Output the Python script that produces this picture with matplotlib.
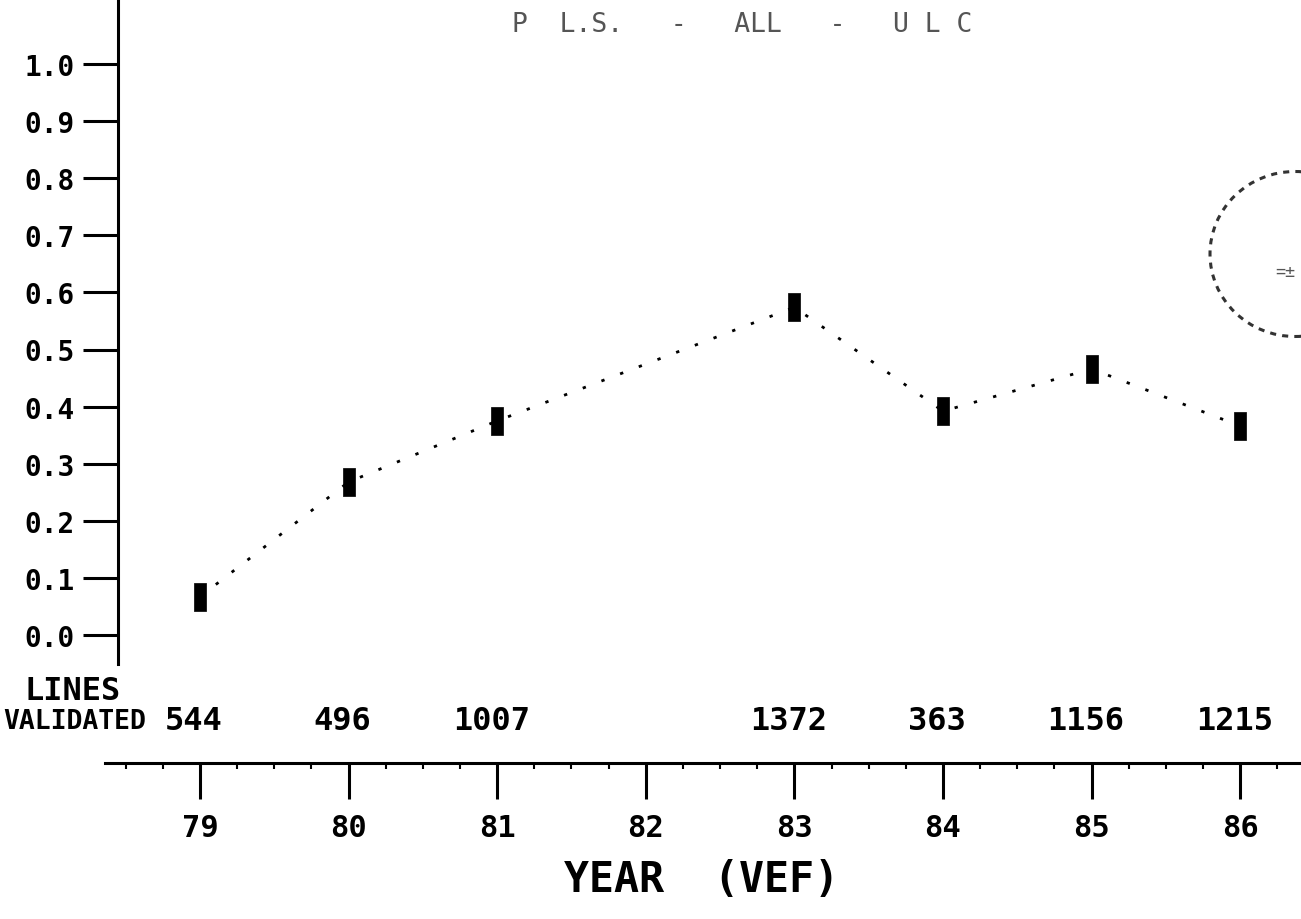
import numpy as np
import matplotlib
matplotlib.use('Agg')
import matplotlib.pyplot as plt
from matplotlib.patches import Ellipse

# fiscal years and the share of lines, year 82 has no point
years = [79, 80, 81, 82, 83, 84, 85, 86]
share = [0.067, 0.268, 0.375, np.nan, 0.574, 0.392, 0.466, 0.366]
lines_validated = ['544', '496', '1007', '', '1372', '363', '1156', '1215']
y_ticks = [0.0, 0.1, 0.2, 0.3, 0.4, 0.5, 0.6, 0.7, 0.8, 0.9, 1.0]
y_labels = ['0.0', '0.1', '0.2', '0.3', '0.4', '0.5', '0.6', '0.7', '0.8', '0.9', '1.0']

title = 'P  L.S.   -   ALL   -   U L C'
xlabel = 'YEAR  (VEF)'

mono = 'DejaVu Sans Mono'
W, H = 1301, 920

fig = plt.figure(figsize=(W / 100, H / 100), dpi=100)
ax = fig.add_axes([0, 0, 1, 1])
ax.patch.set_alpha(0)

# map pixels of the scan to data units
px_per_year = 148.6
px_per_unit = 571.0
x0_px, y0_px = 200, 636
ax.set_xlim(79 - x0_px / px_per_year, 79 + (W - x0_px) / px_per_year)
ax.set_ylim((y0_px - H) / px_per_unit, y0_px / px_per_unit)

# dotted connecting line, skipping the missing year
yrs = np.array(years, dtype=float)
val = np.array(share)
ok = ~np.isnan(val)
ax.plot(yrs[ok], val[ok], color='black', lw=2.0, linestyle=(0, (1.2, 6)),
        dash_capstyle='butt')
rect = [(-0.45, -1), (0.45, -1), (0.45, 1), (-0.45, 1), (-0.45, -1)]
ax.plot(yrs[ok], val[ok], linestyle='none', marker=rect, markersize=20,
        markerfacecolor='black', markeredgecolor='black', markeredgewidth=0.5)

# axes
for s in ['top', 'right']:
    ax.spines[s].set_visible(False)
ax.spines['left'].set_position(('data', 79 + (118 - x0_px) / px_per_year))
ax.spines['left'].set_bounds(-0.05, 1.11)
ax.spines['bottom'].set_position(('data', (y0_px - 764) / px_per_unit))
ax.spines['bottom'].set_bounds(79 + (105 - x0_px) / px_per_year, ax.get_xlim()[1])
for s in ['left', 'bottom']:
    ax.spines[s].set_linewidth(2.2)
    ax.spines[s].set_color('black')

ax.set_yticks(y_ticks)
ax.set_yticklabels(y_labels, family=mono, fontsize=20, fontweight='bold')
ax.set_xticks(years)
ax.set_xticklabels([str(y) for y in years], family=mono, fontsize=22, fontweight='bold')
ax.tick_params(axis='y', direction='out', length=25, width=2.2, pad=6)
ax.tick_params(axis='x', direction='out', length=26, width=2.2, pad=10)
ax.set_xticks(np.arange(78.5, 86.4, 0.25), minor=True)
ax.tick_params(axis='x', which='minor', direction='out', length=4, width=1.5)

# counts row above the x axis
xt = ax.get_xaxis_transform()
for y, n in zip(years, lines_validated):
    if n:
        ax.annotate(n, xy=(y, 1 - 722 / H), xycoords=xt, xytext=(-6, 0),
                    textcoords='offset pixels', ha='center', va='center',
                    family=mono, fontsize=23, fontweight='bold')
fig.text(3 / W, 1 - 722 / H, 'VALIDATED', ha='left', va='center',
         family=mono, fontsize=19, fontweight='bold')
fig.text(25 / W, 1 - 692 / H, 'LINES', ha='left', va='center',
         family=mono, fontsize=23, fontweight='bold')

fig.text(742 / W, 1 - 25 / H, title, ha='center', va='center', family=mono,
         fontsize=19, color='#555555')
fig.text(702 / W, 1 - 880 / H, xlabel, ha='center', va='center', family=mono,
         fontsize=30, fontweight='bold')

# partial circle at the right edge
circ = Ellipse((1295 / W, 1 - 255 / H), 170 / W, 165 / H, transform=fig.transFigure,
               fill=False, edgecolor='#333333', lw=2.2, linestyle=(0, (2, 2)))
fig.add_artist(circ)
fig.text(1285 / W, 1 - 272 / H, '=±', ha='center', va='center', family=mono,
         fontsize=12, color='#555555')

fig.savefig('out.png', dpi=100, facecolor='white')
